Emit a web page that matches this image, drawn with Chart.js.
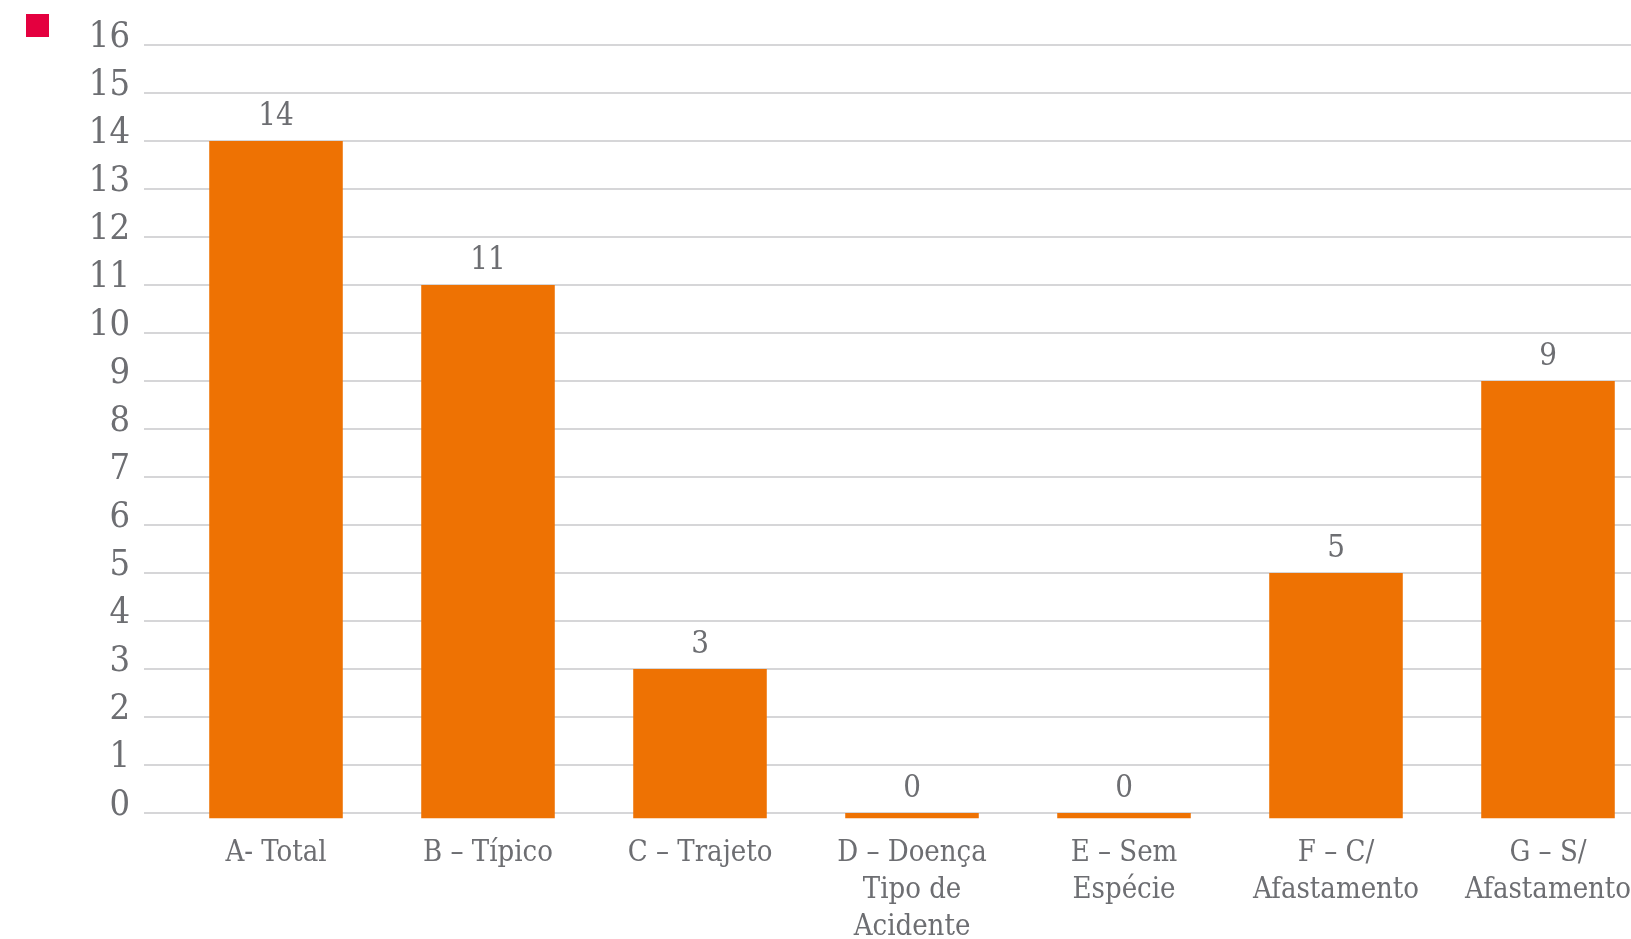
<!DOCTYPE html>
<html>
<head>
<meta charset="utf-8">
<script src="https://cdn.jsdelivr.net/npm/chart.js@4/dist/chart.umd.min.js"></script>
<style>
  html, body { margin: 0; padding: 0; background: #fff; overflow: hidden; }
  #wrap { width: 1654px; height: 939px; }
</style>
</head>
<body>
<div id="wrap"><canvas id="myChart" width="1654" height="939"></canvas></div>
<script>
// data
const categories = [
    'A- Total',
    'B – Típico',
    'C – Trajeto',
    ['D – Doença', 'Tipo de', 'Acidente'],
    ['E – Sem', 'Espécie'],
    ['F – C/', 'Afastamento'],
    ['G – S/', 'Afastamento']
];
const values = [14, 11, 3, 0, 0, 5, 9];
const yTicks = [0, 1, 2, 3, 4, 5, 6, 7, 8, 9, 10, 11, 12, 13, 14, 15, 16];

const textGrey = '#6d6e72';
const barOrange = '#ee7203';
const fontFamily = "'DejaVu Serif Condensed', 'DejaVu Serif', serif";

// values over the bars
const valueLabels = {
    id: 'valueLabels',
    afterDatasetsDraw(chart) {
        const c = chart.ctx;
        const meta = chart.getDatasetMeta(0);
        c.save();
        c.font = '31px ' + fontFamily;
        c.fillStyle = textGrey;
        c.textAlign = 'center';
        c.textBaseline = 'alphabetic';
        meta.data.forEach((bar, i) => {
            const top = chart.scales.y.getPixelForValue(values[i]);
            c.fillText(String(values[i]), bar.x, top - 16);
        });
        c.restore();
    }
};

const ctx = document.getElementById('myChart');

new Chart(ctx, {
    type: 'bar',
    data: {
        labels: categories,
        datasets: [{
            label: '',
            data: values,
            base: -0.11,
            clip: false,
            backgroundColor: barOrange,
            barPercentage: 0.63,
            categoryPercentage: 1
        }]
    },
    options: {
        responsive: false,
        animation: false,
        layout: { padding: { top: 0, right: 0, bottom: 0, left: 12 } },
        plugins: {
            tooltip: { enabled: false },
            legend: {
                position: 'left',
                align: 'start',
                labels: {
                    boxWidth: 23,
                    boxHeight: 23,
                    padding: 14,
                    generateLabels: () => [{ text: '', fillStyle: '#e4003f', strokeStyle: '#e4003f', lineWidth: 0 }]
                }
            }
        },
        scales: {
            x: {
                grid: { display: false },
                border: { display: false },
                afterFit: s => { s.height = 126; },
                ticks: {
                    color: textGrey,
                    padding: 14,
                    maxRotation: 0,
                    autoSkip: false,
                    font: { family: fontFamily, size: 29, lineHeight: 1.27 }
                }
            },
            y: {
                min: 0,
                max: 16,
                afterBuildTicks: s => { s.ticks = yTicks.map(v => ({ value: v })); },
                afterFit: s => { s.width = 105; s.paddingTop = 45; },
                border: { display: false },
                grid: {
                    color: '#d6d6d8',
                    lineWidth: 2,
                    drawTicks: true,
                    tickLength: 26
                },
                ticks: {
                    color: textGrey,
                    padding: 14,
                    labelOffset: -7,
                    font: { family: fontFamily, size: 36 }
                }
            }
        }
    },
    plugins: [valueLabels]
});
</script>
</body>
</html>
